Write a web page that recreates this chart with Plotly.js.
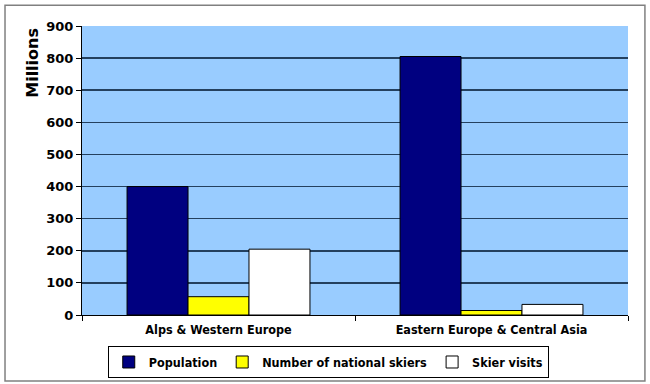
<!DOCTYPE html>
<html><head><meta charset="utf-8">
<script src="https://cdn.plot.ly/plotly-3.0.1.min.js"></script>
<style>html,body{margin:0;padding:0;background:#fff}#chart{width:650px;height:384px}</style>
</head><body><div id="chart"></div>
<script>
const categories = ["Alps & Western Europe", "Eastern Europe & Central Asia"];
const seriesNames = ["Population", "Number of national skiers", "Skier visits"];
const population = [400, 805];
const nationalSkiers = [57, 14];
const skierVisits = [205, 33];
const yTicks = [0, 100, 200, 300, 400, 500, 600, 700, 800, 900];
const colors = ["#000080", "#ffff00", "#ffffff"];

const fontC = "'DejaVu Sans Condensed', 'DejaVu Sans', sans-serif";
const fontW = "'DejaVu Sans', sans-serif";
const values = [population, nationalSkiers, skierVisits];
const traces = values.map((v, i) => ({
  type: "bar", x: categories, y: v, name: seriesNames[i],
  marker: {color: colors[i], line: {color: "#000", width: 1}}
}));

const layout = {
  width: 650, height: 384,
  margin: {l: 82, r: 22, t: 26, b: 69, autoexpand: false},
  paper_bgcolor: "#fff", plot_bgcolor: "#99ccff",
  barmode: "group", bargap: 0.33, bargroupgap: 0,
  font: {family: fontC, color: "#000", size: 12},
  showlegend: true,
  legend: {orientation: "h", xref: "container", yref: "container", x: 0.505, xanchor: "center", y: 0.098, yanchor: "top",
    bordercolor: "#000", borderwidth: 1, bgcolor: "#fff",
    font: {family: fontC, size: 12.5, weight: "bold"}, traceorder: "normal", itemwidth: 30},
  xaxis: {type: "category", showline: true, linecolor: "#000", linewidth: 1,
    ticks: "outside", tickson: "boundaries", ticklen: 5, tickcolor: "#000", ticklabelstandoff: 3,
    tickfont: {family: fontC, size: 12.5, weight: "bold"}, showgrid: false, fixedrange: true},
  yaxis: {range: [0, 900], tickvals: yTicks, ticktext: yTicks.map(String),
    showline: true, linecolor: "#000", linewidth: 1, ticks: "outside", ticklen: 5, tickcolor: "#000",
    gridcolor: "#24405e", gridwidth: 1.5, zeroline: false,
    tickfont: {family: fontW, size: 13, weight: "bold"}},
  annotations: [{text: "Millions", xref: "paper", yref: "paper", x: -0.092, y: 1.0,
    xanchor: "center", yanchor: "top", textangle: -90, showarrow: false,
    font: {family: fontW, size: 16, weight: "bold"}}],
  shapes: [{type: "rect", xref: "paper", yref: "paper", x0: -0.141, x1: 1.031, y0: -0.228, y1: 1.072,
    line: {color: "#808080", width: 1.5}, fillcolor: "rgba(0,0,0,0)", layer: "below"}]
};
Plotly.newPlot("chart", traces, layout, {displayModeBar: false, staticPlot: true});
</script></body></html>
